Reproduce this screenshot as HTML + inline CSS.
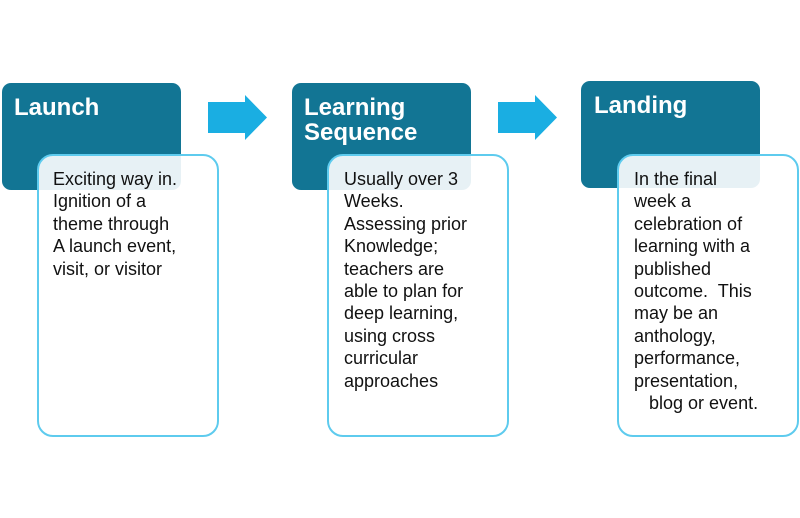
<!DOCTYPE html>
<html><head><style>
body{margin:0;width:800px;height:518px;background:#fff;position:relative;overflow:hidden;font-family:"Liberation Sans",sans-serif}
.t{position:absolute;width:179px;height:107px;background:#127594;border-radius:9px}
.h{position:absolute;color:#fff;font-weight:bold;font-size:24px;line-height:25px}
.w{position:absolute;width:178px;height:279px;border:2px solid #5ecbee;border-radius:16px;background:rgba(255,255,255,0.9)}
.x{position:absolute;font-size:18px;line-height:22.4px;color:#111;white-space:pre}
</style></head><body>
<div class="t" style="left:2px;top:83px"></div>
<div class="h" style="left:14px;top:95px">Launch</div>
<div class="t" style="left:292px;top:83px"></div>
<div class="h" style="left:304px;top:95px">Learning<br>Sequence</div>
<div class="t" style="left:581px;top:81px"></div>
<div class="h" style="left:594px;top:93px">Landing</div>
<svg style="position:absolute;left:0;top:0" width="800" height="518">
<polygon points="208,102 245,102 245,95 267,117.5 245,140 245,133 208,133" fill="#1aaee2"/>
<polygon points="498,102 535,102 535,95 557,117.5 535,140 535,133 498,133" fill="#1aaee2"/>
</svg>
<div class="w" style="left:37px;top:154px"></div>
<div class="w" style="left:327px;top:154px"></div>
<div class="w" style="left:617px;top:154px"></div>
<div class="x" style="left:53px;top:168px">Exciting way in.
Ignition of a
theme through
A launch event,
visit, or visitor</div>
<div class="x" style="left:344px;top:168px">Usually over 3
Weeks.
Assessing prior
Knowledge;
teachers are
able to plan for
deep learning,
using cross
curricular
approaches</div>
<div class="x" style="left:634px;top:168px">In the final
week a
celebration of
learning with a
published
outcome.  This
may be an
anthology,
performance,
presentation,
   blog or event.</div>
</body></html>
